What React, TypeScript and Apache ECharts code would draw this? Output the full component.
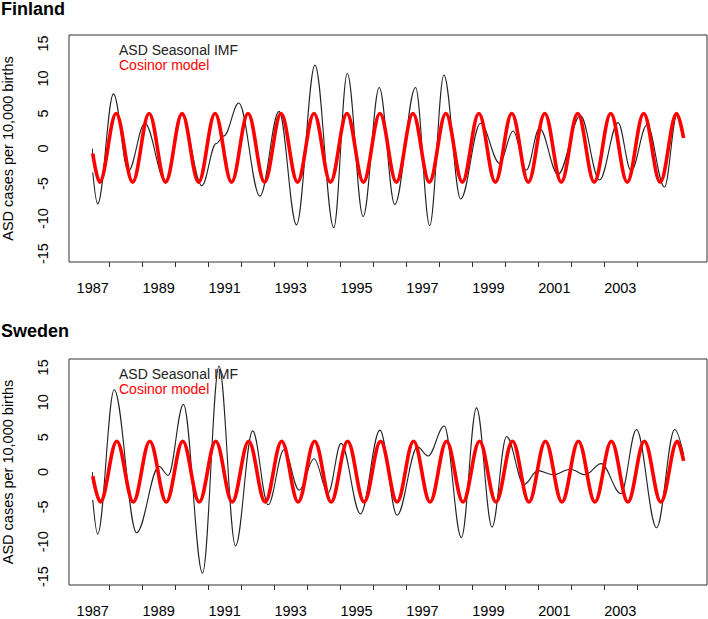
import React, { useEffect, useRef } from "react";
import * as echarts from "echarts";

// ---------- Data ----------
// Finland: ASD Seasonal IMF (turning points of the black curve)
const finImfTime = [
  1987.0, 1987.15, 1987.63, 1988.08, 1988.58, 1989.2, 1989.7, 1990.31, 1990.74, 1990.98,
  1991.43, 1992.07, 1992.65, 1993.18, 1993.74, 1994.31, 1994.72, 1995.2, 1995.69, 1996.16,
  1996.79, 1997.22, 1997.65, 1998.16, 1998.76, 1999.34, 1999.75, 2000.15, 2000.55, 2001.11,
  2001.79, 2002.37, 2002.93, 2003.33, 2003.81, 2004.34, 2004.72, 2004.92,
];
const finImfValue = [
  -3.4, -7.9, 7.8, -3.2, 3.6, -4.6, 4.8, -5.3, 0.7, 1.8,
  6.5, -6.8, 5.3, -10.9, 11.9, -11.3, 10.7, -9.7, 8.7, -8.0,
  8.7, -11.0, 10.5, -7.2, 3.6, -2.1, 2.5, -3.1, 2.9, -3.7,
  4.7, -4.5, 3.7, -3.2, 3.4, -5.5, 4.8, 2.0,
];
// Finland: Cosinor model (turning points of the red curve)
const finCosTime = [
  1987.0, 1987.21, 1987.71, 1988.21, 1988.71, 1989.21, 1989.71, 1990.21, 1990.71, 1991.21,
  1991.71, 1992.21, 1992.71, 1993.21, 1993.71, 1994.21, 1994.71, 1995.21, 1995.71, 1996.21,
  1996.71, 1997.21, 1997.71, 1998.21, 1998.71, 1999.21, 1999.71, 2000.21, 2000.71, 2001.21,
  2001.71, 2002.21, 2002.71, 2003.21, 2003.71, 2004.21, 2004.71, 2004.92,
];
const finCosValue = [
  -0.7, -4.8, 5.0, -4.8, 5.0, -4.8, 5.0, -4.8, 5.0, -4.8,
  5.0, -4.8, 5.0, -4.8, 5.0, -4.8, 5.0, -4.8, 5.0, -4.8,
  5.0, -4.8, 5.0, -4.8, 5.0, -4.8, 5.0, -4.8, 5.0, -4.8,
  5.0, -4.8, 5.0, -4.8, 5.0, -4.8, 5.0, 1.5,
];

// Sweden: ASD Seasonal IMF
const sweImfTime = [
  1987.0, 1987.15, 1987.65, 1988.33, 1989.01, 1989.29, 1989.75, 1990.33, 1990.83, 1991.33,
  1991.85, 1992.32, 1992.8, 1993.26, 1993.71, 1994.14, 1994.53, 1995.12, 1995.71, 1996.23,
  1996.85, 1997.17, 1997.66, 1998.18, 1998.64, 1999.11, 1999.55, 2000.08, 2000.5, 2000.97,
  2001.48, 2001.94, 2002.42, 2003.02, 2003.49, 2004.1, 2004.65, 2004.92,
];
const sweImfValue = [
  -4.0, -8.9, 11.8, -8.7, 0.8, -0.5, 9.7, -14.5, 15.2, -10.6,
  5.9, -4.7, 3.2, -2.6, 1.9, -3.0, 4.1, -6.0, 6.0, -6.2,
  3.6, 2.3, 6.6, -9.4, 9.2, -7.9, 5.1, -1.8, 0.2, -0.4,
  0.4, -0.4, 1.2, -3.1, 6.1, -8.0, 6.1, 2.5,
];
// Sweden: Cosinor model
const sweCosTime = [
  1987.0, 1987.23, 1987.73, 1988.23, 1988.73, 1989.23, 1989.73, 1990.23, 1990.73, 1991.23,
  1991.73, 1992.23, 1992.73, 1993.23, 1993.73, 1994.23, 1994.73, 1995.23, 1995.73, 1996.23,
  1996.73, 1997.23, 1997.73, 1998.23, 1998.73, 1999.23, 1999.73, 2000.23, 2000.73, 2001.23,
  2001.73, 2002.23, 2002.73, 2003.23, 2003.73, 2004.23, 2004.73, 2004.92,
];
const sweCosValue = [
  -0.6, -4.3, 4.4, -4.3, 4.4, -4.3, 4.4, -4.3, 4.4, -4.3,
  4.4, -4.3, 4.4, -4.3, 4.4, -4.3, 4.4, -4.3, 4.4, -4.3,
  4.4, -4.3, 4.4, -4.3, 4.4, -4.3, 4.4, -4.3, 4.4, -4.3,
  4.4, -4.3, 4.4, -4.3, 4.4, -4.3, 4.4, 1.6,
];

// Axis ticks and labels
const yearTicks = [
  1987, 1988, 1989, 1990, 1991, 1992, 1993, 1994, 1995, 1996, 1997, 1998, 1999, 2000, 2001,
  2002, 2003, 2004,
];
const halfYearTicks = [
  1987.5, 1988.5, 1989.5, 1990.5, 1991.5, 1992.5, 1993.5, 1994.5, 1995.5, 1996.5, 1997.5,
  1998.5, 1999.5, 2000.5, 2001.5, 2002.5, 2003.5,
];
const yearLabels = [1987, 1989, 1991, 1993, 1995, 1997, 1999, 2001, 2003];
const yLabels = [-15, -10, -5, 0, 5, 10, 15];

const panels = ["Finland", "Sweden"];
const seriesNames = ["ASD Seasonal IMF", "Cosinor model"];
const yAxisTitle = "ASD cases per 10,000 births";

const FONT = "'Liberation Sans', Arial, Helvetica, sans-serif";
const FS = 14.5;

const pairs = (t: number[], v: number[]) => t.map((x, i) => [x, v[i]]);

function buildOption() {
  const gridTops = [35, 359];
  const gridHeights = [227, 226];

  const grids = gridTops.map((top, i) => ({
    left: 69,
    top,
    width: 638,
    height: gridHeights[i],
    show: true,
    borderColor: "#333",
    borderWidth: 1,
    backgroundColor: "transparent",
    containLabel: false,
    outerBoundsMode: "none",
  }));

  const xAxes: any[] = [];
  const yAxes: any[] = [];
  [0, 1].forEach((g) => {
    xAxes.push({
      type: "value",
      gridIndex: g,
      position: "bottom",
      min: 1986.28,
      max: 2005.63,
      axisLine: { show: false },
      splitLine: { show: false },
      axisTick: {
        show: true,
        customValues: yearTicks,
        length: 11,
        lineStyle: { color: "#333", width: 1 },
      },
      axisLabel: {
        customValues: yearLabels,
        margin: 18,
        fontSize: FS,
        fontFamily: FONT,
        color: "#000",
        formatter: (v: number) => String(v),
      },
    });
    xAxes.push({
      type: "value",
      gridIndex: g,
      position: "bottom",
      min: 1986.28,
      max: 2005.63,
      axisLine: { show: false },
      splitLine: { show: false },
      axisTick: {
        show: true,
        customValues: halfYearTicks,
        length: 5,
        lineStyle: { color: "#333", width: 1 },
      },
      axisLabel: { show: false },
    });
    yAxes.push({
      type: "value",
      gridIndex: g,
      min: -16.2,
      max: 16.2,
      axisLine: { show: false },
      axisTick: { show: false },
      splitLine: { show: false },
      axisLabel: {
        customValues: yLabels,
        rotate: 90,
        margin: 19,
        fontSize: FS,
        fontFamily: FONT,
        color: "#000",
        formatter: (v: number) => String(v),
      },
      name: yAxisTitle,
      nameLocation: "middle",
      nameRotate: 90,
      nameGap: 54,
      nameTextStyle: { fontSize: FS, fontFamily: FONT, color: "#000" },
    });
  });

  const lineCommon = {
    type: "line",
    showSymbol: false,
    symbol: "none",
    smooth: 0.36,
    smoothMonotone: "x",
    silent: true,
  };

  const data = [
    [pairs(finImfTime, finImfValue), pairs(finCosTime, finCosValue)],
    [pairs(sweImfTime, sweImfValue), pairs(sweCosTime, sweCosValue)],
  ];

  const series: any[] = [];
  [0, 1].forEach((g) => {
    series.push({
      ...lineCommon,
      name: seriesNames[0],
      xAxisIndex: g * 2,
      yAxisIndex: g,
      data: data[g][0],
      lineStyle: { color: "#222", width: 1.1 },
      z: 2,
    });
    series.push({
      ...lineCommon,
      name: seriesNames[1],
      xAxisIndex: g * 2,
      yAxisIndex: g,
      data: data[g][1],
      lineStyle: { color: "#ff0000", width: 3.6 },
      z: 3,
    });
  });

  const legendY = [50, 374];
  const graphic: any[] = [];
  legendY.forEach((y) => {
    graphic.push({
      type: "text",
      x: 119,
      y,
      z: 10,
      style: {
        text: seriesNames[0],
        fill: "#222",
        fontSize: 14,
        fontFamily: FONT,
        verticalAlign: "middle",
        lineHeight: 14,
      },
    });
    graphic.push({
      type: "text",
      x: 119,
      y: y + 15,
      z: 10,
      style: {
        text: seriesNames[1],
        fill: "#ff0000",
        fontSize: 14,
        fontFamily: FONT,
        verticalAlign: "middle",
        lineHeight: 14,
      },
    });
  });

  return {
    animation: false,
    backgroundColor: "#fff",
    title: panels.map((p, i) => ({
      text: p,
      left: 1,
      top: i === 0 ? 0 : 322,
      padding: 0,
      textStyle: { fontSize: 18, fontWeight: "bold", fontFamily: FONT, color: "#000" },
    })),
    grid: grids,
    xAxis: xAxes,
    yAxis: yAxes,
    series,
    graphic,
  };
}

export default function App() {
  const ref = useRef<HTMLDivElement>(null);
  useEffect(() => {
    if (!ref.current) return;
    const chart = echarts.init(ref.current, null, { renderer: "svg" });
    chart.setOption(buildOption() as any);
    return () => chart.dispose();
  }, []);
  return (
    <div
      ref={ref}
      style={{ position: "fixed", left: 0, top: 0, width: 708, height: 619, background: "#fff" }}
    />
  );
}
